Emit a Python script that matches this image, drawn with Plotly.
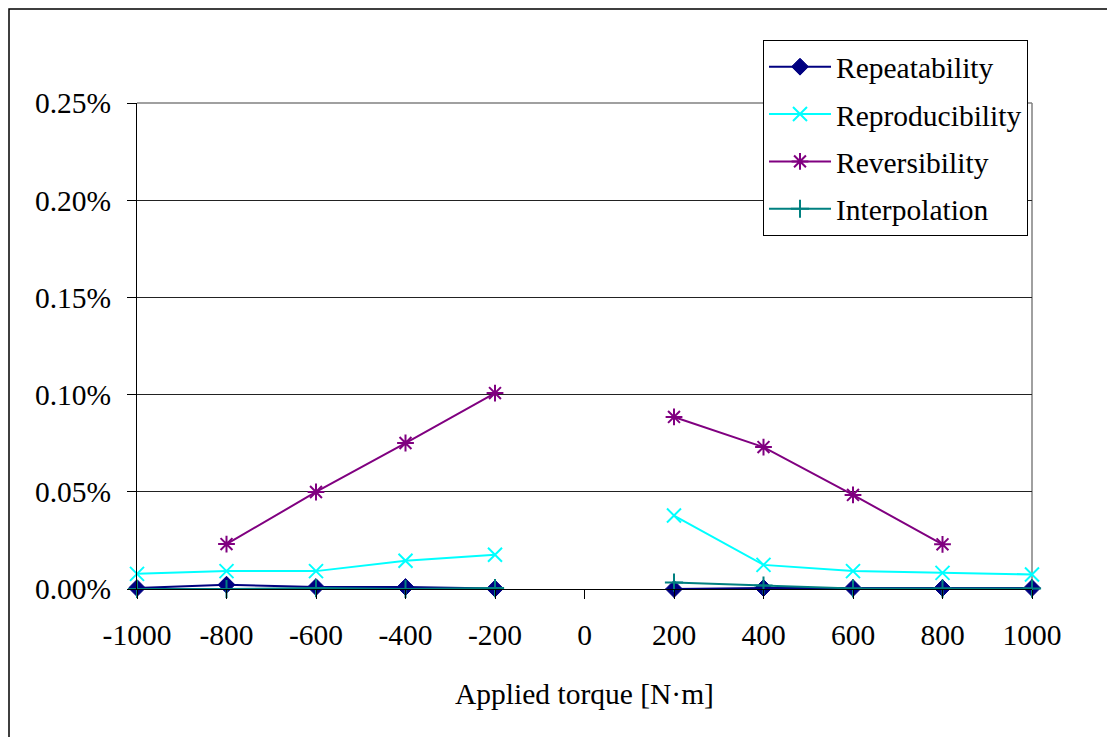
import plotly.graph_objects as go

torque = [-1000, -800, -600, -400, -200, 0, 200, 400, 600, 800, 1000]
# values in percent (None = no measurement at 0)
repeatability = [0.0005, 0.0022, 0.0010, 0.0010, 0.0002, None, 0.0000, 0.0005, 0.0005, 0.0005, 0.0005]
reproducibility = [0.0078, 0.0092, 0.0092, 0.0145, 0.0176, None, 0.0378, 0.0124, 0.0092, 0.0083, 0.0075]
reversibility = [None, 0.0231, 0.0499, 0.0751, 0.1008, None, 0.0885, 0.0730, 0.0484, 0.0230, None]
interpolation = [0.0000, 0.0000, 0.0005, 0.0000, 0.0005, None, 0.0033, 0.0018, 0.0003, 0.0002, 0.0002]

tick_vals = [-1000, -800, -600, -400, -200, 0, 200, 400, 600, 800, 1000]
tick_text = ["-1000", "-800", "-600", "-400", "-200", "0", "200", "400", "600", "800", "1000"]

FONT = "Times New Roman, Liberation Serif, serif"
FS = 29.5

def frac(vals):
    return [None if v is None else v / 100.0 for v in vals]

series = [
    ("Repeatability", repeatability, "#000080", "diamond", 13, 1),
    ("Reproducibility", reproducibility, "#00FFFF", "x-thin-open", 14, 2),
    ("Reversibility", reversibility, "#800080", "asterisk-open", 14, 2),
    ("Interpolation", interpolation, "#008080", "cross-thin-open", 13, 2),
]

fig = go.Figure()
for name, vals, color, sym, size, mlw in series:
    fig.add_trace(go.Scatter(
        x=torque, y=frac(vals), name=name, mode="lines+markers",
        line=dict(color=color, width=2),
        marker=dict(symbol=sym, size=size, color=color, line=dict(color=color, width=mlw)),
        connectgaps=False, cliponaxis=False, legendgroup=name,
    ))

# page body has an 8px margin, so the plot is placed 8px up/left
OFF = 8
W, H = 1115, 737
L, T = 137 - OFF, 103 - OFF
pw, ph = 895, 486
R = W - L - pw
B = H - T - ph

def px2x(px):
    return (px - OFF - L) / pw

def py2y(py):
    return (T + ph - (py - OFF)) / ph

fig.update_layout(
    width=W, height=H,
    margin=dict(l=L, r=R, t=T, b=B, pad=0),
    paper_bgcolor="white", plot_bgcolor="white",
    font=dict(family=FONT, size=FS, color="black"),
    showlegend=True,
    legend=dict(
        x=px2x(763), y=py2y(40), xanchor="left", yanchor="top",
        bgcolor="white", bordercolor="black", borderwidth=1,
        font=dict(family=FONT, size=FS, color="black"),
        itemwidth=62, tracegroupgap=6, traceorder="grouped",
    ),
    xaxis=dict(
        range=[-1000, 1000], tickmode="array", tickvals=tick_vals, ticktext=tick_text,
        showgrid=False, zeroline=False, showline=True, linecolor="black", linewidth=1,
        ticks="outside", ticklen=9, tickcolor="black", tickwidth=1,
        ticklabelstandoff=11,
        title=dict(text="Applied torque [N·m]", font=dict(family=FONT, size=FS), standoff=32),
        tickfont=dict(family=FONT, size=FS),
    ),
    yaxis=dict(
        range=[0, 0.0025], tickmode="linear", tick0=0, dtick=0.0005, tickformat=".2%",
        showgrid=True, gridcolor="#222222", gridwidth=1, zeroline=False,
        showline=True, linecolor="black", linewidth=1,
        ticks="outside", ticklen=9, tickcolor="black", tickwidth=1,
        ticklabelstandoff=10,
        tickfont=dict(family=FONT, size=FS),
    ),
)

# plot-area top/right border (gray) and outer chart border
fig.add_shape(type="line", xref="paper", yref="paper", x0=0, x1=1, y0=1, y1=1,
              line=dict(color="#808080", width=1.5), layer="below")
fig.add_shape(type="line", xref="paper", yref="paper", x0=1, x1=1, y0=0, y1=1,
              line=dict(color="#808080", width=1.5), layer="below")
fig.add_shape(type="rect", xref="paper", yref="paper",
              x0=px2x(OFF + 1), x1=px2x(W + 30),
              y0=py2y(H + 30), y1=py2y(9),
              line=dict(color="black", width=1.5), fillcolor="rgba(0,0,0,0)")

fig.write_html("out.html")
